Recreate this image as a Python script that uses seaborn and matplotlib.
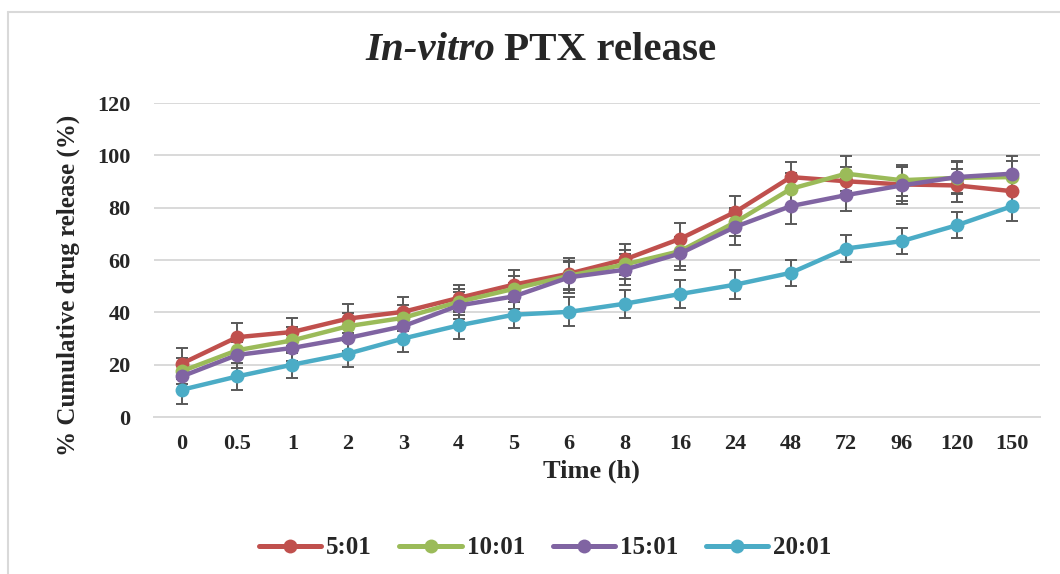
import numpy as np
import pandas as pd
import seaborn as sns
import matplotlib.pyplot as plt
from matplotlib.lines import Line2D

# Sampling times (categorical axis) and release data (% cumulative, mean +/- SD)
time_labels = ["0", "0.5", "1", "2", "3", "4", "5", "6", "8", "16", "24", "48", "72", "96", "120", "150"]
ratios = ["5:01", "10:01", "15:01", "20:01"]

release_5 = [20.4, 30.5, 32.5, 37.6, 40.2, 45.5, 50.6, 54.8, 60.2, 68.1, 78.4, 91.7, 90.1, 88.9, 88.5, 86.3]
release_10 = [17.5, 25.5, 29.3, 34.7, 37.9, 44.0, 49.0, 54.0, 58.3, 63.4, 74.5, 87.2, 93.0, 90.5, 91.4, 91.7]
release_15 = [15.5, 23.7, 26.4, 30.2, 34.7, 42.6, 46.1, 53.4, 56.3, 62.5, 72.7, 80.6, 84.8, 88.5, 91.7, 93.0]
release_20 = [10.4, 15.5, 20.0, 24.2, 30.0, 35.0, 39.1, 40.2, 43.3, 47.0, 50.6, 55.1, 64.4, 67.2, 73.3, 80.6]

sd_5 = [6.0, 5.5, 5.5, 5.5, 5.5, 5.0, 5.5, 6.0, 6.0, 6.0, 6.0, 5.7, 5.5, 6.5, 6.4, 6.0]
sd_10 = [5.0, 5.0, 5.0, 5.0, 5.0, 5.0, 5.0, 5.5, 5.5, 5.5, 5.5, 6.0, 6.7, 6.0, 6.0, 6.0]
sd_15 = [5.0, 5.0, 5.0, 5.0, 5.0, 5.0, 5.0, 6.0, 6.0, 6.4, 6.8, 7.0, 6.0, 7.0, 6.0, 6.7]
sd_20 = [5.3, 5.3, 5.0, 5.0, 5.0, 5.0, 5.0, 5.5, 5.4, 5.3, 5.5, 5.0, 5.0, 5.0, 5.0, 5.5]

colors = ["#C0504D", "#9BBB59", "#8064A2", "#4BACC6"]

means = [release_5, release_10, release_15, release_20]
sds = [sd_5, sd_10, sd_15, sd_20]

# long-form table for seaborn
df = pd.DataFrame({
    "Time": time_labels * len(ratios),
    "Release": np.concatenate(means),
    "SD": np.concatenate(sds),
    "Ratio": np.repeat(ratios, len(time_labels)),
})

sns.set_theme(style="white")
plt.rcParams["font.family"] = ["Liberation Serif", "DejaVu Serif"]
plt.rcParams["font.weight"] = "bold"

fig = plt.figure(figsize=(10.6, 5.74), dpi=100)
ax = fig.add_axes([0.1453, 0.2735, 0.8358, 0.547])

grey_err = "#595959"
grid_col = "#D9D9D9"

# error bars first so the lines sit over them
for i, r in enumerate(ratios):
    sub = df[df["Ratio"] == r]
    ax.errorbar(np.arange(len(sub)), sub["Release"], yerr=sub["SD"], fmt="none",
                ecolor=grey_err, elinewidth=1.4, capsize=4.5, capthick=1.4, zorder=2)

sns.lineplot(data=df, x="Time", y="Release", hue="Ratio", palette=colors,
             marker="o", markersize=10, markeredgewidth=0, linewidth=3.2,
             sort=False, errorbar=None, legend=False, ax=ax, zorder=3)

ax.set_ylim(0, 120)
ax.set_xlim(-0.5, len(time_labels) - 0.5)
ax.set_yticks(range(0, 121, 20))
ax.yaxis.grid(True, color=grid_col, linewidth=1.4)
ax.xaxis.grid(False)
ax.set_axisbelow(True)
for side in ["top", "right", "left"]:
    ax.spines[side].set_visible(False)
ax.spines["bottom"].set_color(grid_col)
ax.spines["bottom"].set_linewidth(1.4)
ax.tick_params(axis="both", length=0, labelsize=16)
ax.tick_params(axis="y", pad=17)
ax.tick_params(axis="x", pad=12)
for lab in ax.get_xticklabels() + ax.get_yticklabels():
    lab.set_fontweight("bold")

ax.set_xlabel("Time (h)", fontsize=19, fontweight="bold")
ax.xaxis.set_label_coords(0.494, -0.135)
ax.set_ylabel("% Cumulative drug release (%)", fontsize=18, fontweight="bold")
ax.yaxis.set_label_coords(-0.0835, 0.42)

# title: italic part + upright part
fig.text(495 / 1060, 1 - 51 / 574, "In-vitro", fontsize=29.5, fontweight="bold",
         fontstyle="italic", ha="right", va="center")
fig.text(504 / 1060, 1 - 51 / 574, "PTX release", fontsize=29.5, fontweight="bold",
         ha="left", va="center")

handles = [Line2D([], [], color=c, linewidth=3.6, marker="o", markersize=10,
                  markeredgewidth=0) for c in colors]
fig.legend(handles, ratios, loc="center", bbox_to_anchor=(545 / 1060, 1 - 548 / 574),
           ncol=4, frameon=False, prop={"size": 18, "weight": "bold"},
           handlelength=2.5, handletextpad=0.2, columnspacing=1.1)

# light outer frame (top and left edges visible in the original)
fig.add_artist(Line2D([8 / 1060, 1.0], [1 - 12 / 574] * 2, transform=fig.transFigure,
                      color=grid_col, linewidth=1.5))
fig.add_artist(Line2D([8 / 1060] * 2, [0.0, 1 - 12 / 574], transform=fig.transFigure,
                      color=grid_col, linewidth=1.5))

fig.savefig("out.png", dpi=100)
